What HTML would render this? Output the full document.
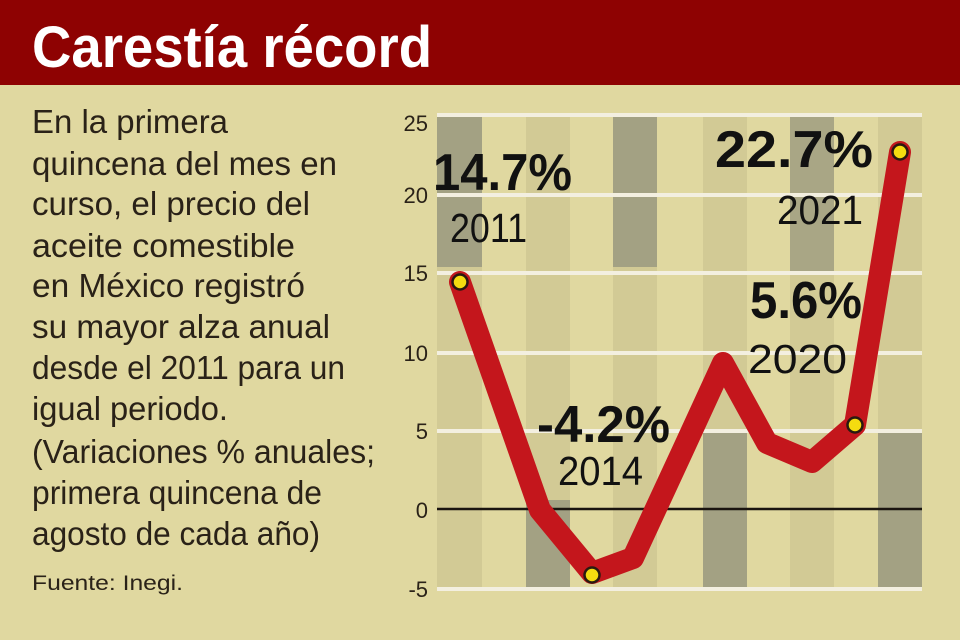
<!DOCTYPE html>
<html><head><meta charset="utf-8"><style>
html,body{margin:0;padding:0;background:#e0d8a0;}
svg{display:block;}
</style></head><body>
<svg width="960" height="640" viewBox="0 0 960 640" xmlns="http://www.w3.org/2000/svg" font-family="Liberation Sans, sans-serif">
<rect width="960" height="640" fill="#e0d8a0"/>
<rect width="960" height="85" fill="#8e0202"/>
<text x="32" y="67" font-size="58" font-weight="bold" fill="#fff" textLength="400" lengthAdjust="spacingAndGlyphs">Carestía récord</text>
<g fill="#2a2218" font-size="33">
<text x="32" y="133" textLength="196" lengthAdjust="spacingAndGlyphs">En la primera</text>
<text x="32" y="175" textLength="305" lengthAdjust="spacingAndGlyphs">quincena del mes en</text>
<text x="32" y="215" textLength="278" lengthAdjust="spacingAndGlyphs">curso, el precio del</text>
<text x="32" y="257" textLength="263" lengthAdjust="spacingAndGlyphs">aceite comestible</text>
<text x="32" y="297" textLength="273" lengthAdjust="spacingAndGlyphs">en México registró</text>
<text x="32" y="338" textLength="298" lengthAdjust="spacingAndGlyphs">su mayor alza anual</text>
<text x="32" y="379" textLength="313" lengthAdjust="spacingAndGlyphs">desde el 2011 para un</text>
<text x="32" y="420" textLength="196" lengthAdjust="spacingAndGlyphs">igual periodo.</text>
<text x="32" y="463" textLength="343" lengthAdjust="spacingAndGlyphs">(Variaciones % anuales;</text>
<text x="32" y="504" textLength="290" lengthAdjust="spacingAndGlyphs">primera quincena de</text>
<text x="32" y="545" textLength="288" lengthAdjust="spacingAndGlyphs">agosto de cada año)</text>
<text x="32" y="590" font-size="21" textLength="151" lengthAdjust="spacingAndGlyphs">Fuente: Inegi.</text>
</g>
<!-- columns -->
<g>
<rect x="437" y="115" width="45" height="474" fill="#d2ca95"/>
<rect x="437" y="115" width="45" height="152" fill="#a3a183"/>
<rect x="526" y="115" width="44" height="474" fill="#d2ca95"/>
<rect x="526" y="500" width="44" height="89" fill="#a3a183"/>
<rect x="613" y="115" width="44" height="474" fill="#d2ca95"/>
<rect x="613" y="115" width="44" height="152" fill="#a3a183"/>
<rect x="703" y="115" width="44" height="474" fill="#d2ca95"/>
<rect x="703" y="430" width="44" height="159" fill="#a3a183"/>
<rect x="790" y="115" width="44" height="474" fill="#d2ca95"/>
<rect x="790" y="115" width="44" height="160" fill="#a9a685"/>
<rect x="878" y="115" width="44" height="474" fill="#d2ca95"/>
<rect x="878" y="430" width="44" height="159" fill="#a3a183"/>
</g>
<g stroke="#f3efe0" stroke-width="4">
<line x1="437" x2="922" y1="115" y2="115"/>
<line x1="437" x2="922" y1="195" y2="195"/>
<line x1="437" x2="922" y1="273" y2="273"/>
<line x1="437" x2="922" y1="353" y2="353"/>
<line x1="437" x2="922" y1="431" y2="431"/>
<line x1="437" x2="922" y1="589" y2="589"/>
</g>
<line x1="437" x2="922" y1="509" y2="509" stroke="#1a1410" stroke-width="2.5"/>
<g font-size="22" fill="#2a2218" text-anchor="end">
<text x="428" y="131">25</text>
<text x="428" y="203">20</text>
<text x="428" y="281">15</text>
<text x="428" y="361">10</text>
<text x="428" y="439">5</text>
<text x="428" y="518">0</text>
<text x="428" y="597">-5</text>
</g>
<polyline points="460,282 540,510 592,573 633,558 683,450 723,363 767,443 812,462 855,425 900,152" fill="none" stroke="#c4161c" stroke-width="22" stroke-linejoin="round" stroke-linecap="round"/>
<g fill="#f4dc10" stroke="#2a1a10" stroke-width="2.5">
<circle cx="460" cy="282" r="7.5"/>
<circle cx="592" cy="575" r="7.5"/>
<circle cx="855" cy="425" r="7.5"/>
<circle cx="900" cy="152" r="7.5"/>
</g>
<g fill="#111">
<text x="433" y="190" font-size="52" font-weight="bold" textLength="139" lengthAdjust="spacingAndGlyphs">14.7%</text>
<text x="450" y="242" font-size="41" textLength="77" lengthAdjust="spacingAndGlyphs">2011</text>
<text x="715" y="167" font-size="52" font-weight="bold" textLength="158" lengthAdjust="spacingAndGlyphs">22.7%</text>
<text x="777" y="224" font-size="41" textLength="86" lengthAdjust="spacingAndGlyphs">2021</text>
<text x="750" y="318" font-size="52" font-weight="bold" textLength="112" lengthAdjust="spacingAndGlyphs">5.6%</text>
<text x="748" y="373" font-size="41" textLength="99" lengthAdjust="spacingAndGlyphs">2020</text>
<text x="537" y="442" font-size="52" font-weight="bold" textLength="133" lengthAdjust="spacingAndGlyphs">-4.2%</text>
<text x="558" y="485" font-size="41" textLength="85" lengthAdjust="spacingAndGlyphs">2014</text>
</g>
</svg>
</body></html>
